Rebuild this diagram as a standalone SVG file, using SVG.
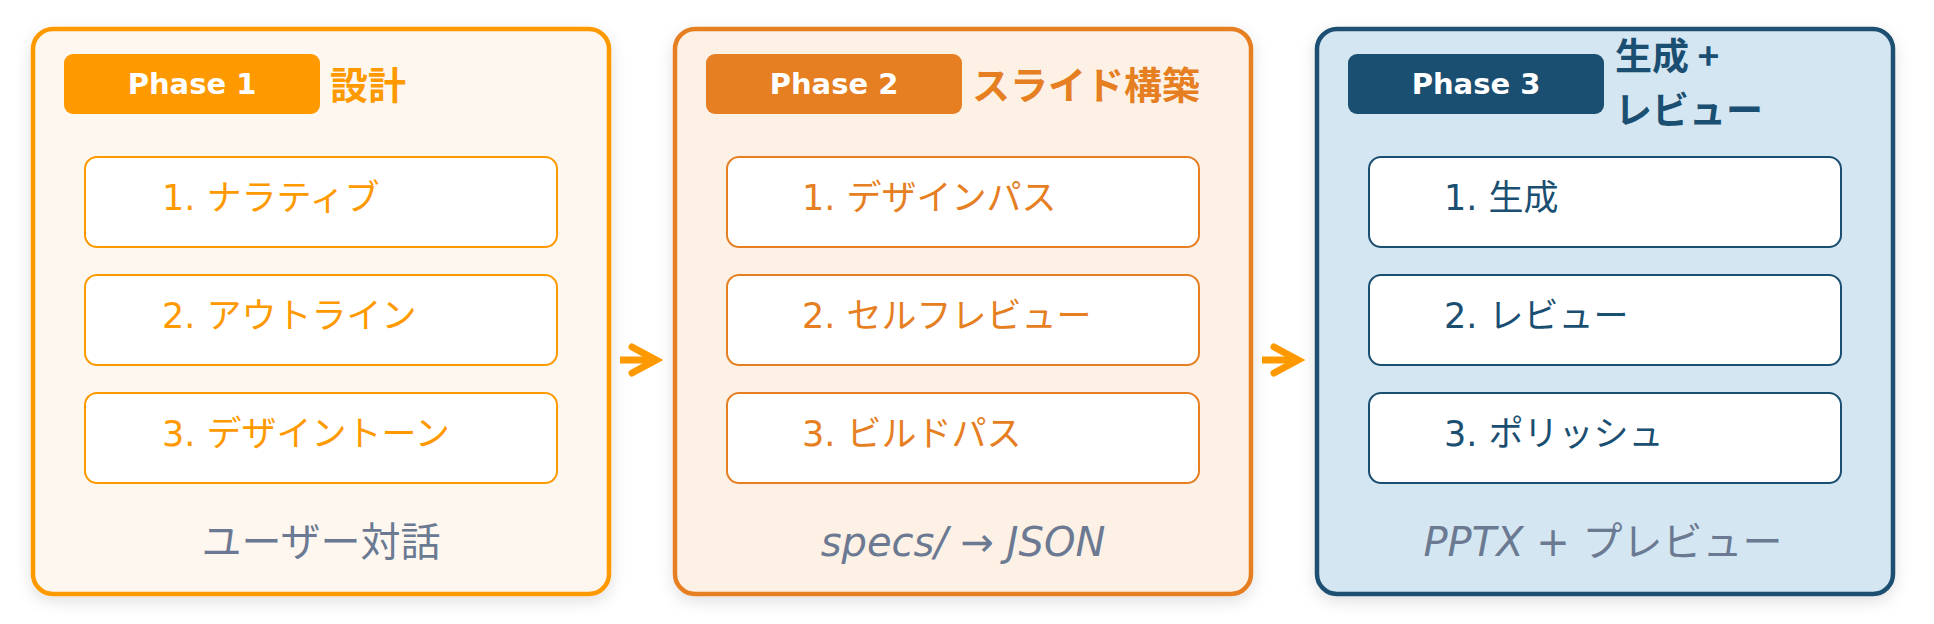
<svg xmlns="http://www.w3.org/2000/svg" width="1934" height="624" viewBox="0 0 1934 624">
  <defs>
    <filter id="shadow" x="-10%" y="-10%" width="120%" height="125%">
      <feDropShadow dx="0" dy="5" stdDeviation="8" flood-color="#000000" flood-opacity="0.12"/>
    </filter>
    <marker id="chev" viewBox="0 0 40 34" markerWidth="40" markerHeight="34" refX="33" refY="17" orient="auto" markerUnits="userSpaceOnUse">
      <path d="M9,4 L33,17 L9,30" fill="none" stroke="#FF9900" stroke-width="7" stroke-linecap="round" stroke-linejoin="miter"/>
    </marker>
    <style>
      .panel { stroke-width: 4.5; filter: url(#shadow); }
      .badge-text { font-family: "DejaVu Sans", "Noto Sans CJK JP", sans-serif; font-weight: bold; font-size: 29px; fill: #FFFFFF; text-anchor: middle; }
      .title { font-family: "Noto Sans CJK JP", "DejaVu Sans", sans-serif; font-weight: bold; font-size: 38px; }
      .title3 { font-size: 37px; }
      .step { fill: #FFFFFF; stroke-width: 2; }
      .step-text { font-family: "DejaVu Sans", "Noto Sans CJK JP", sans-serif; font-size: 35px; }
      .footer { font-family: "DejaVu Sans", "Noto Sans CJK JP", sans-serif; font-size: 40px; fill: #6B7A92; text-anchor: middle; }
      .it { font-style: italic; }
      .connector { fill: none; stroke: #FF9900; stroke-width: 7; }
    </style>
  </defs>
  <rect width="1934" height="624" fill="#FFFFFF"/>

  <g id="phase1">
    <rect class="panel" x="33" y="29" width="576" height="565" rx="20" fill="#FEF7F0" stroke="#FF9900"/>
    <rect x="64" y="54" width="256" height="60" rx="9" fill="#FF9900"/>
    <text class="badge-text" x="192" y="94">Phase 1</text>
    <text class="title" x="330" y="99" fill="#FF9900">設計</text>
    <g id="p1s1"><rect class="step" x="85" y="157" width="472" height="90" rx="12" stroke="#FF9900"/><text class="step-text" x="162" y="210" fill="#FF9900">1. ナラティブ</text></g>
    <g id="p1s2"><rect class="step" x="85" y="275" width="472" height="90" rx="12" stroke="#FF9900"/><text class="step-text" x="162" y="328" fill="#FF9900">2. アウトライン</text></g>
    <g id="p1s3"><rect class="step" x="85" y="393" width="472" height="90" rx="12" stroke="#FF9900"/><text class="step-text" x="162" y="446" fill="#FF9900">3. デザイントーン</text></g>
    <text class="footer" x="321" y="556">ユーザー対話</text>
  </g>

  <g id="phase2">
    <rect class="panel" x="675" y="29" width="576" height="565" rx="20" fill="#FDF1E6" stroke="#E67E22"/>
    <rect x="706" y="54" width="256" height="60" rx="9" fill="#E67E22"/>
    <text class="badge-text" x="834" y="94">Phase 2</text>
    <text class="title" x="972" y="99" fill="#E67E22">スライド構築</text>
    <g id="p2s1"><rect class="step" x="727" y="157" width="472" height="90" rx="12" stroke="#E67E22"/><text class="step-text" x="802" y="210" fill="#E67E22">1. デザインパス</text></g>
    <g id="p2s2"><rect class="step" x="727" y="275" width="472" height="90" rx="12" stroke="#E67E22"/><text class="step-text" x="802" y="328" fill="#E67E22">2. セルフレビュー</text></g>
    <g id="p2s3"><rect class="step" x="727" y="393" width="472" height="90" rx="12" stroke="#E67E22"/><text class="step-text" x="802" y="446" fill="#E67E22">3. ビルドパス</text></g>
    <text class="footer it" x="963" y="556">specs/ → JSON</text>
  </g>

  <g id="phase3">
    <rect class="panel" x="1317" y="29" width="576" height="565" rx="20" fill="#D4E6F1" stroke="#1B4F72"/>
    <rect x="1348" y="54" width="256" height="60" rx="9" fill="#1B4F72"/>
    <text class="badge-text" x="1476" y="94">Phase 3</text>
    <text class="title title3" x="1615" y="70" fill="#1B4F72">生成 +</text>
    <text class="title title3" x="1615" y="124" fill="#1B4F72">レビュー</text>
    <g id="p3s1"><rect class="step" x="1369" y="157" width="472" height="90" rx="12" stroke="#1B4F72"/><text class="step-text" x="1444" y="210" fill="#1B4F72">1. 生成</text></g>
    <g id="p3s2"><rect class="step" x="1369" y="275" width="472" height="90" rx="12" stroke="#1B4F72"/><text class="step-text" x="1444" y="328" fill="#1B4F72">2. レビュー</text></g>
    <g id="p3s3"><rect class="step" x="1369" y="393" width="472" height="90" rx="12" stroke="#1B4F72"/><text class="step-text" x="1444" y="446" fill="#1B4F72">3. ポリッシュ</text></g>
    <text class="footer" x="1603" y="556"><tspan class="it">PPTX</tspan> + プレビュー</text>
  </g>

  <g id="connectors">
    <path class="connector" d="M620,360 H656" marker-end="url(#chev)"/>
    <path class="connector" d="M1262,360 H1298" marker-end="url(#chev)"/>
  </g>
</svg>
